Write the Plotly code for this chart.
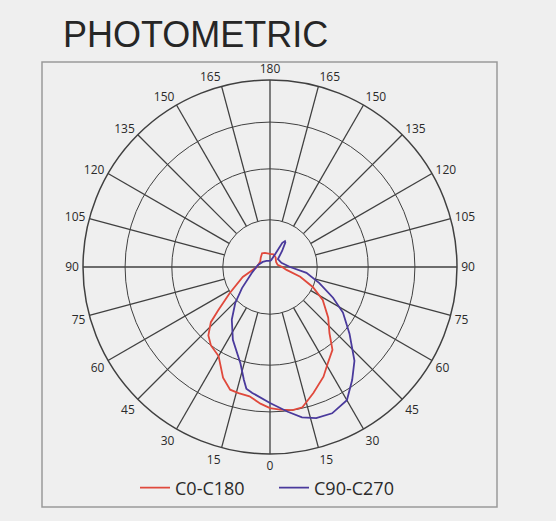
import plotly.graph_objects as go

# ---- data (angle in degrees: 0 = down, + = right side; r in arbitrary intensity units) ----
c0_theta = [-180, -160, -150, -135, -120, -90, -70, -57, -50, -47, -42, -37, -30, -23, -18, -14, -9, -4,
            0, 4, 9, 13, 19, 26, 31, 37, 42, 49, 58, 65, 72, 80, 90, 106, 130, 150, 165, 180]
c0_r = [28, 32, 34, 28, 24, 28, 62, 103, 145, 173, 197, 210, 220, 257, 276, 278, 280, 293,
        302, 306, 310, 308, 285, 261, 240, 222, 190, 165, 133, 101, 68, 36, 26, 17, 17, 24, 28, 28]

c90_theta = [-180, -150, -125, -100, -72, -53, -44, -36, -27, -17, -13, -11, -8, 0, 7, 12, 17, 23, 30,
             36, 42, 50, 58, 64, 72, 81, 90, 110, 135, 143, 148, 150, 153, 158, 170, 180]
c90_r = [13, 15, 19, 26, 41, 75, 107, 139, 175, 216, 248, 265, 272, 291, 312, 329, 338, 340, 329,
         299, 270, 222, 184, 150, 111, 79, 43, 26, 24, 43, 62, 64, 58, 30, 15, 13]

series_names = ["C0-C180", "C90-C270"]
ring_values = [101, 210, 310, 400]
spoke_angles = list(range(0, 360, 15))
tick_vals = list(range(0, 360, 15))
tick_text = [str(v if v <= 180 else 360 - v) for v in tick_vals]

GRID = "#404040"
BG = "#efefef"

fig = go.Figure()

# spokes: main axes through centre, others start at the inner ring
for a in spoke_angles:
    r0 = 0 if a % 90 == 0 else ring_values[0]
    fig.add_trace(go.Scatterpolar(theta=[a, a], r=[r0, ring_values[-1]], mode="lines",
                                  line=dict(color=GRID, width=1.3), showlegend=False,
                                  hoverinfo="skip"))

fig.add_trace(go.Scatterpolar(theta=c0_theta, r=c0_r, mode="lines", name=series_names[0],
                              line=dict(color="#e0493c", width=1.8)))
fig.add_trace(go.Scatterpolar(theta=c90_theta, r=c90_r, mode="lines", name=series_names[1],
                              line=dict(color="#4a3a9c", width=1.8)))

W, H = 556, 521
cx, cy, R = 270, 267, 187

fig.update_layout(
    width=W, height=H,
    margin=dict(l=0, r=0, t=0, b=0),
    paper_bgcolor=BG,
    polar=dict(
        domain=dict(x=[(cx - R) / W, (cx + R) / W], y=[(H - cy - R) / H, (H - cy + R) / H]),
        bgcolor=BG,
        radialaxis=dict(range=[0, ring_values[-1]], tickvals=ring_values, showticklabels=False,
                        ticks="", showline=False, gridcolor=GRID, gridwidth=1.3),
        angularaxis=dict(rotation=270, direction="counterclockwise", tickvals=tick_vals,
                         ticktext=tick_text, showgrid=False, ticks="outside", ticklen=1,
                         tickcolor="rgba(0,0,0,0)", showline=True,
                         linecolor=GRID, linewidth=1.5,
                         tickfont=dict(family="Open Sans", size=12, color="#2a2a2a")),
    ),
    showlegend=True,
    legend=dict(orientation="h", x=135 / W, xanchor="left", y=1 - 488 / H, yanchor="middle",
                bgcolor="rgba(0,0,0,0)", itemwidth=30, entrywidth=94, entrywidthmode="pixels",
                font=dict(family="Open Sans", size=18, color="#2a2a2a")),
    shapes=[dict(type="rect", xref="paper", yref="paper", x0=42 / W, x1=497 / W,
                 y0=1 - 507 / H, y1=1 - 62 / H, line=dict(color="#9a9a9a", width=1.5),
                 layer="below")],
    annotations=[dict(text="PHOTOMETRIC", xref="paper", yref="paper", x=61 / W, y=1 - 34 / H,
                      xanchor="left", yanchor="middle", showarrow=False,
                      font=dict(family="Liberation Sans", size=36, color="#262626"))],
)

fig.write_html("out.html", config={"displayModeBar": False},
               post_script="document.body.style.margin='0';document.body.style.background='#efefef';")
